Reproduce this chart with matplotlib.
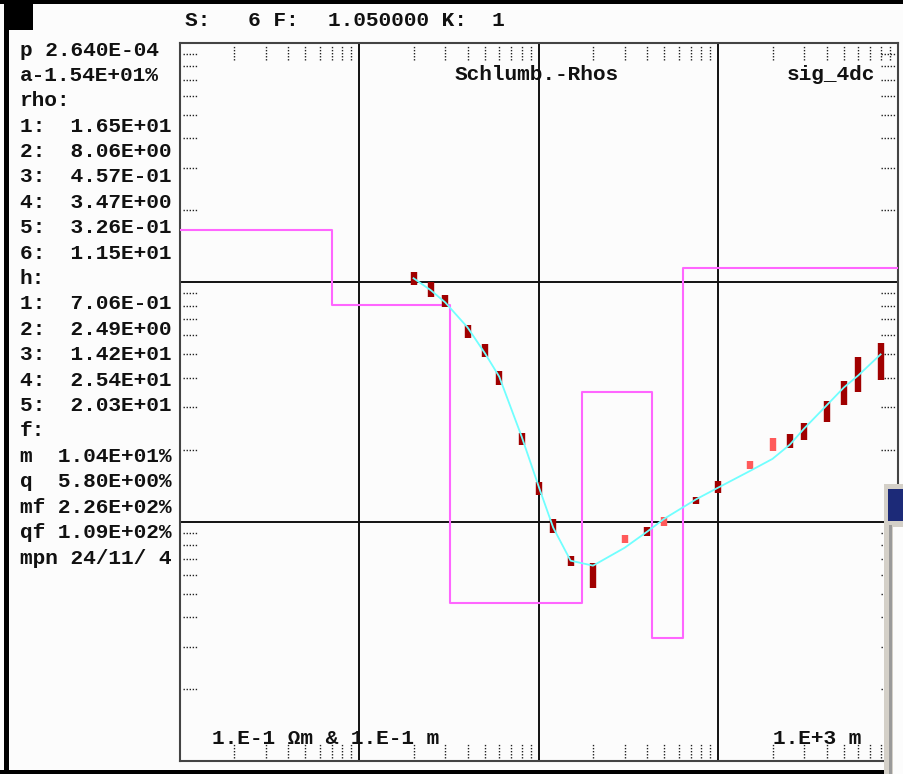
import numpy as np
import matplotlib
matplotlib.use('Agg')
import matplotlib.pyplot as plt
from matplotlib.patches import Rectangle

W, H = 904, 774

# Schlumberger sounding: AB/2 (m), apparent resistivity (Ohm m), error (%)
ab2 = [2, 2.5, 3, 4, 5, 6, 8, 10, 12, 15, 20, 30, 40, 50, 75, 100,
       150, 200, 250, 300, 400, 500, 600, 800]
rhoa = [10.4, 9.30, 8.33, 6.21, 5.17, 3.97, 2.22, 1.38, 0.962, 0.687, 0.597, 0.849,
        0.913, 1.00, 1.23, 1.39, 1.72, 2.10, 2.18, 2.39, 2.89, 3.45, 4.12, 4.65]
err = [6.5, 7.5, 6, 6.5, 6.5, 7, 6, 6.5, 7, 5, 13, 4,
       4.5, 4.5, 3.5, 6, 4, 6, 7, 8.5, 11, 12, 18, 19.5]
# points the model curve misses
misfit = [0, 0, 0, 0, 0, 0, 0, 0, 0, 0, 0, 1,
          0, 1, 0, 0, 1, 1, 0, 0, 0, 0, 0, 0]
# model response at the same spacings
rho_fit = [10.4, 9.26, 8.25, 6.48, 5.05, 4.04, 2.27, 1.39, 0.944, 0.687, 0.655, 0.778,
           0.908, 1.03, 1.24, 1.39, 1.63, 1.83, 2.10, 2.45, 3.06, 3.64, 4.08, 5.00]

# layered earth model
rho = [16.5, 8.06, 0.457, 3.47, 0.326, 11.5]
thick = [0.706, 2.49, 14.2, 25.4, 20.3]

info = ["p 2.640E-04", "a-1.54E+01%", "rho:",
        "1:  1.65E+01", "2:  8.06E+00", "3:  4.57E-01",
        "4:  3.47E+00", "5:  3.26E-01", "6:  1.15E+01", "h:",
        "1:  7.06E-01", "2:  2.49E+00", "3:  1.42E+01",
        "4:  2.54E+01", "5:  2.03E+01", "f:",
        "m  1.04E+01%", "q  5.80E+00%", "mf 2.26E+02%", "qf 1.09E+02%",
        "mpn 24/11/ 4"]

FONT = dict(family='Liberation Mono', weight='bold', size=15.2, color='#111111')


def fx(x):
    return x / W


def fy(y):
    return 1 - y / H


fig = plt.figure(figsize=(W / 100, H / 100), dpi=100)
fig.patch.set_facecolor('#fcfcfc')

ax = fig.add_axes([fx(180), fy(761), (898 - 180) / W, (761 - 43) / H])
ax.set_facecolor('#fcfcfc')
ax.set_xscale('log')
ax.set_yscale('log')
ax.set_xlim(0.1, 1000)
ax.set_ylim(0.1, 100)
ax.tick_params(which='both', length=0, labelbottom=False, labelleft=False)
for s in ax.spines.values():
    s.set_color('#444444')
    s.set_linewidth(1.5)

# decade lines
for v in [1, 10, 100]:
    ax.axvline(v, color='#111111', lw=1.4, zorder=2)
for v in [1, 10]:
    ax.axhline(v, color='#111111', lw=1.4, zorder=2)

# dotted minor ticks on all four sides
xm = [k * 10.0 ** d for d in range(-1, 3) for k in range(2, 10)]
ym = [k * 10.0 ** d for d in range(-1, 2) for k in range(2, 10)]
tx, ty = 14 / 718, 14 / 718
dots = dict(color='#222222', lw=1.0, linestyles=(0, (1, 1.2)), zorder=2)
ax.vlines(xm, 0.004, 0.004 + tx, transform=ax.get_xaxis_transform(), **dots)
ax.vlines(xm, 0.996 - tx, 0.996, transform=ax.get_xaxis_transform(), **dots)
ax.hlines(ym, 0.004, 0.004 + ty, transform=ax.get_yaxis_transform(), **dots)
ax.hlines(ym, 0.996 - ty, 0.996, transform=ax.get_yaxis_transform(), **dots)

# model as step function of depth
depth = np.cumsum(thick)
xs = np.concatenate([[0.1], depth, [1000]])
ys = rho + [rho[-1]]
ax.step(xs, ys, where='post', color='#ff66ff', lw=1.5, zorder=3)

# data with error bars
ab2 = np.array(ab2)
rhoa = np.array(rhoa)
e = 1 + np.array(err) / 100
cols = ['#ff5a5a' if m else '#a00000' for m in misfit]
ax.vlines(ab2, rhoa / e, rhoa * e, colors=cols, lw=4.6, capstyle='butt', zorder=4)

ax.plot(ab2, rho_fit, color='#70ffff', lw=1.3, zorder=5)

# axis annotations
ax.text(fx(537), fy(74), 'Schlumb.-Rhos', transform=fig.transFigure,
        ha='center', va='center', **FONT)
ax.text(fx(875), fy(74), 'sig_4dc', transform=fig.transFigure,
        ha='right', va='center', **FONT)
ax.text(fx(212), fy(738), '1.E-1 \u03a9m & 1.E-1 m', transform=fig.transFigure,
        ha='left', va='center', **FONT)
ax.text(fx(773), fy(738), '1.E+3 m', transform=fig.transFigure,
        ha='left', va='center', **FONT)

# header and parameter panel
fig.text(fx(185), fy(20), 'S:   6 F:', ha='left', va='center', **FONT)
fig.text(fx(328), fy(20), '1.050000 K:  1', ha='left', va='center', **FONT)
for i, line in enumerate(info):
    fig.text(fx(20), fy(50 + i * 25.4), line, ha='left', va='center', **FONT)


def box(x0, y0, x1, y1, color, z=10):
    fig.add_artist(Rectangle((fx(x0), fy(y1)), (x1 - x0) / W, (y1 - y0) / H,
                             transform=fig.transFigure, facecolor=color,
                             edgecolor='none', zorder=z))


# window frame
box(0, 0, W, 4, '#000000')
box(4, 0, 9, H, '#000000')
box(4, 0, 33, 30, '#000000')
box(0, 770, W, H, '#000000')

# dialog partly covering the right edge
box(884, 484, W, H, '#d4d0c8', 20)
box(888, 489, W, 521, '#1c2a78', 21)
box(889, 525, 892, H, '#9a9a9a', 21)
box(893, 527, W, H, '#fcfcfc', 21)

fig.savefig('out.png', dpi=100, facecolor=fig.get_facecolor())
